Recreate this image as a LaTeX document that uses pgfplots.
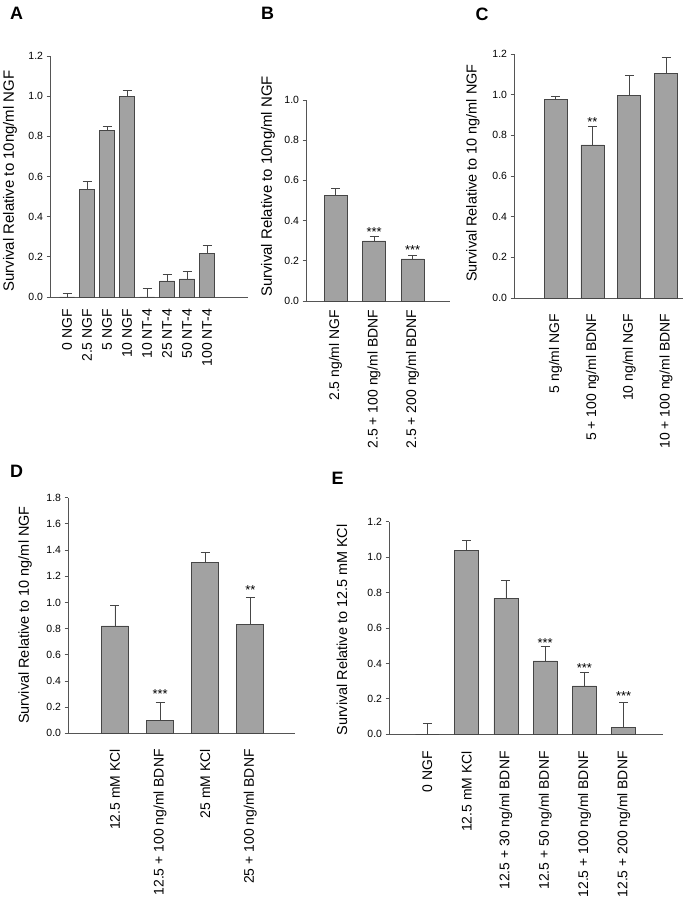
\documentclass[border=0pt]{standalone}
\usepackage{pgfplots}
\pgfplotsset{compat=1.18}
\usepackage{fontspec}
\setmainfont{Liberation Sans}
\definecolor{barfill}{RGB}{162,162,162}
\definecolor{bardraw}{RGB}{70,70,70}
\definecolor{axcol}{RGB}{85,85,85}
\pgfplotsset{
  panel/.style={
    scale only axis, axis x line=bottom, axis y line=left,
    axis line style={-, draw=axcol, line width=0.8bp},
    tick align=outside, major tick length=3.5bp,
    ytick style={draw=axcol, line width=0.8bp},
    xtick style={draw=none},
    xtick=data, ymin=0, clip=false, ybar,
    /pgf/number format/assume math mode=true,
    yticklabel style={font=\fontsize{10.5}{12}\selectfont,
      /pgf/number format/.cd, fixed, fixed zerofill, precision=1},
    xticklabel style={font=\fontsize{14}{16}\selectfont, rotate=90, anchor=east},
    ylabel style={font=\fontsize{14.5}{17}\selectfont, anchor=center},
  },
  bars/.style={fill=barfill, draw=bardraw, line width=0.7bp,
    error bars/.cd, y dir=plus, y explicit,
    error bar style={line width=0.7bp, draw=bardraw, solid},
    error mark options={rotate=90, mark size=4.5bp, line width=0.7bp, draw=bardraw}},
}
\tikzset{stars/.style={font=\fontsize{13}{14}\selectfont, anchor=center, yshift=-2bp}}
\newcommand{\plab}[1]{{\fontsize{18}{20}\selectfont\bfseries #1}}
\begin{document}
\begin{tikzpicture}[x=1bp,y=1bp]
\path[use as bounding box] (0,0) rectangle (683,899);

% ---------------- A
\begin{axis}[panel, at={(50bp,602bp)}, anchor=south west, width=198bp, height=241bp,
  xmin=-0.85, xmax=9.05, ymax=1.2, ytick={0,0.2,...,1.2}, bar width=15bp,
  xticklabels={0 NGF,2.5 NGF,5 NGF,10 NGF,10 NT-4,25 NT-4,50 NT-4,100 NT-4},
  xticklabel shift=5bp,
  ylabel={Survival Relative to 10ng/ml NGF},
  ylabel style={at={(axis description cs:-0.202,0.481)}, font=\fontsize{15}{17}\selectfont}]
\addplot[bars] coordinates {
  (0,0) +- (0,0.02)
  (1,0.535) +- (0,0.043)
  (2,0.83) +- (0,0.021)
  (3,1.0) +- (0,0.03)
  (4,0) +- (0,0.042)
  (5,0.08) +- (0,0.032)
  (6,0.09) +- (0,0.04)
  (7,0.217) +- (0,0.04)
};
\end{axis}

% ---------------- B
\begin{axis}[panel, at={(306bp,598bp)}, anchor=south west, width=144bp, height=201bp,
  xmin=-0.766, xmax=2.97, ymax=1.0, ytick={0,0.2,...,1.0}, bar width=23bp,
  xticklabels={2.5 ng/ml NGF,2.5 + 100 ng/ml BDNF,2.5 + 200 ng/ml BDNF},
  xticklabel shift=2bp,
  ylabel={Survival Relative to 10ng/ml NGF},
  ylabel style={at={(axis description cs:-0.264,0.57)}, font=\fontsize{15}{17}\selectfont}]
\addplot[bars] coordinates {
  (0,0.527) +- (0,0.033)
  (1,0.299) +- (0,0.024)
  (2,0.209) +- (0,0.02)
};
\node[stars] at (axis cs:1,0.353) {***};
\node[stars] at (axis cs:2,0.262) {***};
\end{axis}

% ---------------- C
\begin{axis}[panel, at={(514bp,601bp)}, anchor=south west, width=169bp, height=244bp,
  xmin=-1.13, xmax=3.46, ymax=1.2, ytick={0,0.2,...,1.2}, bar width=23bp,
  xticklabels={5 ng/ml NGF,5 + 100 ng/ml BDNF,10 ng/ml NGF,10 + 100 ng/ml BDNF},
  xticklabel shift=9bp,
  ylabel={Survival Relative to 10 ng/ml NGF},
  ylabel style={at={(axis description cs:-0.243,0.512)}}]
\addplot[bars] coordinates {
  (0,0.975) +- (0,0.015)
  (1,0.753) +- (0,0.093)
  (2,0.995) +- (0,0.102)
  (3,1.105) +- (0,0.078)
};
\node[stars] at (axis cs:1,0.876) {**};
\end{axis}

% ---------------- D
\begin{axis}[panel, at={(68bp,165.7bp)}, anchor=south west, width=227bp, height=235.6bp,
  xmin=-1.04, xmax=3.99, ymax=1.8, ytick={0,0.2,...,1.8}, bar width=27bp,
  xticklabels={12.5 mM KCl,12.5 + 100 ng/ml BDNF,25 mM KCl,25 + 100 ng/ml BDNF},
  xticklabel shift=9bp,
  ylabel={Survival Relative to 10 ng/ml NGF},
  ylabel style={at={(axis description cs:-0.189,0.502)}}]
\addplot[bars] coordinates {
  (0,0.82) +- (0,0.158)
  (1,0.097) +- (0,0.14)
  (2,1.303) +- (0,0.082)
  (3,0.83) +- (0,0.211)
};
\node[stars] at (axis cs:1,0.313) {***};
\node[stars] at (axis cs:3,1.113) {**};
\end{axis}

% ---------------- E
\begin{axis}[panel, at={(389bp,164.7bp)}, anchor=south west, width=274bp, height=212.6bp,
  xmin=-0.975, xmax=6.0, ymax=1.2, ytick={0,0.2,...,1.2}, bar width=24bp,
  xticklabels={0 NGF,12.5 mM KCl,12.5 + 30 ng/ml BDNF,12.5 + 50 ng/ml BDNF,12.5 + 100 ng/ml BDNF,12.5 + 200 ng/ml BDNF},
  xticklabel shift=10bp,
  ylabel={Survival Relative to 12.5 mM KCl},
  ylabel style={at={(axis description cs:-0.172,0.491)}}]
\addplot[bars] coordinates {
  (0,0) +- (0,0.062)
  (1,1.04) +- (0,0.056)
  (2,0.767) +- (0,0.1)
  (3,0.414) +- (0,0.081)
  (4,0.273) +- (0,0.079)
  (5,0.041) +- (0,0.141)
};
\node[stars] at (axis cs:3,0.527) {***};
\node[stars] at (axis cs:4,0.387) {***};
\node[stars] at (axis cs:5,0.226) {***};
\end{axis}

% panel letters
\node at (16.5bp,885.5bp) {\plab{A}};
\node at (267.5bp,885.5bp) {\plab{B}};
\node at (482bp,885bp) {\plab{C}};
\node at (16.5bp,427.5bp) {\plab{D}};
\node at (337.5bp,421bp) {\plab{E}};
\end{tikzpicture}
\end{document}
